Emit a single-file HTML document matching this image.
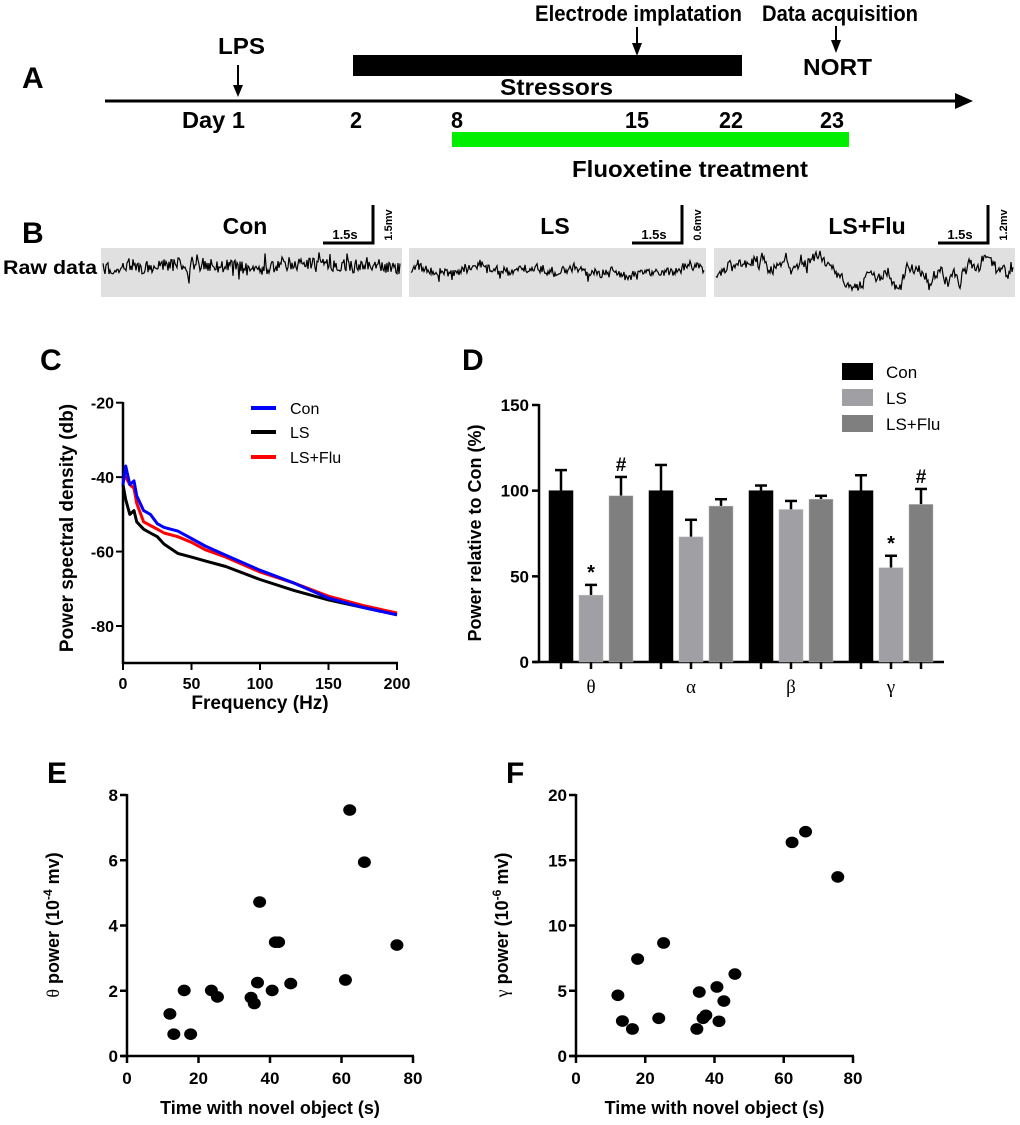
<!DOCTYPE html>
<html><head><meta charset="utf-8"><style>
body{margin:0;background:#fff;}
svg{display:block;font-family:"Liberation Sans",Arial,sans-serif;}
.b{font-weight:bold;}
</style></head><body>
<svg id="fig" width="1020" height="1125" viewBox="0 0 1020 1125" xmlns="http://www.w3.org/2000/svg">
<!-- Panel A -->
<g>
<text x="22" y="88" class="b" font-size="30">A</text>
<line x1="105" y1="101" x2="958" y2="101" stroke="#000" stroke-width="3"/>
<polygon points="955,93 973,101 955,109" fill="#000"/>
<text x="218" y="54" class="b" font-size="23" textLength="47" lengthAdjust="spacingAndGlyphs">LPS</text>
<line x1="238" y1="65" x2="238" y2="88" stroke="#000" stroke-width="2"/>
<polygon points="233,85 243,85 238,97" fill="#000"/>
<rect x="353" y="55" width="389" height="21" fill="#000"/>
<text x="500" y="95" class="b" font-size="23" textLength="113" lengthAdjust="spacingAndGlyphs">Stressors</text>
<text x="535" y="21" class="b" font-size="22" textLength="207" lengthAdjust="spacingAndGlyphs">Electrode implatation</text>
<line x1="637" y1="27" x2="637" y2="46" stroke="#000" stroke-width="2"/>
<polygon points="632,43 642,43 637,56" fill="#000"/>
<text x="762" y="21" class="b" font-size="22" textLength="156" lengthAdjust="spacingAndGlyphs">Data acquisition</text>
<line x1="836" y1="26" x2="836" y2="42" stroke="#000" stroke-width="2"/>
<polygon points="831,40 841,40 836,53" fill="#000"/>
<text x="803" y="75" class="b" font-size="23" textLength="69" lengthAdjust="spacingAndGlyphs">NORT</text>
<g class="b" font-size="23">
<text x="182" y="128" textLength="63" lengthAdjust="spacingAndGlyphs">Day 1</text>
<text x="350" y="128" textLength="12" lengthAdjust="spacingAndGlyphs">2</text>
<text x="451" y="128" textLength="12" lengthAdjust="spacingAndGlyphs">8</text>
<text x="625" y="128" textLength="24" lengthAdjust="spacingAndGlyphs">15</text>
<text x="719" y="128" textLength="24" lengthAdjust="spacingAndGlyphs">22</text>
<text x="820" y="128" textLength="24" lengthAdjust="spacingAndGlyphs">23</text>
</g>
<rect x="452" y="132" width="397" height="15" fill="#00ee00"/>
<text x="572" y="177" class="b" font-size="23" textLength="236" lengthAdjust="spacingAndGlyphs">Fluoxetine treatment</text>
</g>
<!-- Panel B -->
<g id="pb">
<text x="22" y="243" class="b" font-size="30">B</text>
<text x="3" y="274" class="b" font-size="19" textLength="94" lengthAdjust="spacingAndGlyphs">Raw data</text>
</g>
<g id="pc">
<text x="40" y="370" class="b" font-size="30">C</text>
</g>
<g id="pd">
<text x="462" y="370" class="b" font-size="30">D</text>
</g>
<g id="pe">
<text x="47" y="783" class="b" font-size="30">E</text>
</g>
<g id="pf">
<text x="506" y="783" class="b" font-size="30">F</text>
</g>
</svg>
<script>
// ---- Panel C data ----
const psdFreq = [0,2,5,8,10,15,20,25,30,40,50,60,75,100,125,150,175,200];
const psdCon = [-42,-37,-42,-41,-45,-49,-50,-52.5,-53.5,-54.5,-56.5,-58.5,-61,-65,-68.5,-72.5,-75,-77];
const psdLS = [-42,-46,-50,-49,-52,-54,-55,-56,-58,-60.5,-61.5,-62.5,-64,-67.5,-70.5,-73,-75,-77];
const psdFlu = [-40,-40,-42,-43,-47,-52,-53,-54,-55,-56,-57.5,-59.5,-61.5,-65.5,-68.5,-72,-74.5,-76.5];
const psdYTicks = [-20,-40,-60,-80];
const psdXTicks = [0,50,100,150,200];
// ---- Panel D data ----
const bandLabels = ['θ','α','β','γ'];
const barCon = [100,100,100,100];
const barLS = [39,73,89,55];
const barFlu = [97,91,95,92];
const errCon = [12,15,3,9];
const errLS = [6,10,5,7];
const errFlu = [11,4,2,9];
const sigLS = ['*','','','*'];
const sigFlu = ['#','','','#'];
const barYTicks = [0,50,100,150];
// ---- Panel E data ----
const eX = [12.0,13.1,17.8,16.0,23.6,25.3,34.7,35.6,36.5,37.1,40.6,41.5,42.4,45.8,61.1,62.3,66.4,75.5];
const eY = [1.29,0.67,0.67,2.01,2.01,1.81,1.79,1.61,2.25,4.72,2.01,3.49,3.49,2.22,2.33,7.54,5.94,3.40];
const eYTicks = [0,2,4,6,8];
// ---- Panel F data ----
const fX = [12.1,13.4,16.3,17.8,23.9,25.3,34.9,35.6,36.7,37.5,40.7,41.3,42.7,45.9,62.4,66.3,75.6];
const fY = [4.65,2.68,2.07,7.43,2.89,8.66,2.07,4.90,2.89,3.12,5.29,2.66,4.21,6.28,16.37,17.19,13.72];
const fYTicks = [0,5,10,15,20];
const scatXTicks = [0,20,40,60,80];

const NS='http://www.w3.org/2000/svg';
function mk(parent,tag,attrs,text){const e=document.createElementNS(NS,tag);for(const k in attrs)e.setAttribute(k,attrs[k]);if(text!==undefined)e.textContent=text;parent.appendChild(e);return e;}

// ---- Panel B traces (visual texture) ----
const pb=document.getElementById('pb');
const boxes=[[101,402,'Con',245,373,'1.5mv',7,0.8],[409,706,'LS',555,682,'0.6mv',4,1.2],[714,1015,'LS+Flu',867,988,'1.2mv',3.5,4]];
let seed=7;function rnd(){seed=(seed*1103515245+12345)%2147483648;return seed/2147483648;}
boxes.forEach((b,i)=>{
  const r=mk(pb,'rect',{x:b[0],y:248,width:b[1]-b[0],height:49,fill:'#e0e0e0'});
  
  
  const t=mk(pb,'text',{x:b[3],y:234,'text-anchor':'middle','font-size':23,'font-weight':'bold'},b[2]);
  
  
  mk(pb,'path',{d:`M${b[4]-50},243 H${b[4]} V205`,stroke:'#000','stroke-width':3,fill:'none'});
  mk(pb,'text',{x:b[4]-28,y:239,'text-anchor':'middle','font-size':13,'font-weight':'bold'},'1.5s');
  mk(pb,'text',{x:0,y:0,'font-size':11,'font-weight':'bold',transform:`translate(${b[4]+19},${225}) rotate(-90)`,'text-anchor':'middle'},b[5]);
  let d='',slow=0;const cy=i==0?266:(i==1?270:272);
  for(let x=b[0]+2;x<b[1]-1;x+=1){
    slow+= (rnd()-0.5)*b[7]; slow*=0.95;
    let v=(rnd()-0.5)*b[6]*2 + slow*3;
    if(rnd()<0.06) v+=(rnd()-0.35)*b[6]*4;
    const y=Math.max(250,Math.min(296,cy+v));
    d+=(d?'L':'M')+x+','+y.toFixed(1);
  }
  const p=mk(pb,'path',{d:d,stroke:'#000','stroke-width':1.2,fill:'none'});
  
  
});

// ---- Panel C ----
const pc=document.getElementById('pc');
const cx=f=>123+f*(397-123)/200, cyS=v=>402.7+(-20-v)*(626-402.7)/60;
mk(pc,'line',{x1:123,y1:402,x2:123,y2:664,stroke:'#000','stroke-width':2.5});
mk(pc,'line',{x1:122,y1:663,x2:398,y2:663,stroke:'#000','stroke-width':2.5});
psdYTicks.forEach(v=>{mk(pc,'line',{x1:116,x2:123,y1:cyS(v),y2:cyS(v),stroke:'#000','stroke-width':2});
  const t=mk(pc,'text',{x:114,y:cyS(v)+6,'text-anchor':'end','font-size':16,'font-weight':'bold'},String(v));
   });
psdXTicks.forEach(v=>{mk(pc,'line',{x1:cx(v),x2:cx(v),y1:663,y2:670,stroke:'#000','stroke-width':2});
  const t=mk(pc,'text',{x:cx(v),y:689,'text-anchor':'middle','font-size':16,'font-weight':'bold'},String(v));
   });
let t=mk(pc,'text',{x:260,y:709,'text-anchor':'middle','font-size':19,'font-weight':'bold'},'Frequency (Hz)');
 
t=mk(pc,'text',{x:0,y:0,'text-anchor':'middle','font-size':19,'font-weight':'bold',transform:'translate(73,528) rotate(-90)'},'Power spectral density (db)');
 
[[psdLS,'#000','ls'],[psdFlu,'#ff0000','ls-flu'],[psdCon,'#0000ff','con']].forEach(s=>{
  const d=psdFreq.map((f,i)=>(i?'L':'M')+cx(f).toFixed(1)+','+cyS(s[0][i]).toFixed(1)).join('');
  const p=mk(pc,'path',{d:d,stroke:s[1],'stroke-width':3,fill:'none','stroke-linejoin':'round'});
   
});
[['Con','#0000ff',408],['LS','#000',432],['LS+Flu','#ff0000',457]].forEach(l=>{
  mk(pc,'line',{x1:251,x2:276,y1:l[2],y2:l[2],stroke:l[1],'stroke-width':4});
  const tt=mk(pc,'text',{x:290,y:l[2]+6,'font-size':16},l[0]);
   
});

// ---- Panel D ----
const pd=document.getElementById('pd');
const dy=v=>662-v*(662-405)/150;
const groupC=i=>591+i*100;
mk(pd,'line',{x1:539,y1:404,x2:539,y2:663,stroke:'#000','stroke-width':2.5});
mk(pd,'line',{x1:533,y1:662,x2:944,y2:662,stroke:'#000','stroke-width':2.5});
barYTicks.forEach(v=>{mk(pd,'line',{x1:532,x2:539,y1:dy(v),y2:dy(v),stroke:'#000','stroke-width':2.5});
  const tt=mk(pd,'text',{x:529,y:dy(v)+6,'text-anchor':'end','font-size':17,'font-weight':'bold'},String(v));
   });
t=mk(pd,'text',{x:0,y:0,'text-anchor':'middle','font-size':18,'font-weight':'bold',transform:'translate(481,533) rotate(-90)'},'Power relative to Con (%)');
 
const series=[[barCon,errCon,'#000',-30,null,'con'],[barLS,errLS,'#a0a0a4',0,sigLS,'ls'],[barFlu,errFlu,'#7f7f7f',30,sigFlu,'ls-flu']];
bandLabels.forEach((lab,i)=>{
  series.forEach(s=>{
    const c=groupC(i)+s[3], v=s[0][i], e=s[1][i];
    mk(pd,'line',{x1:c,x2:c,y1:dy(v),y2:dy(v+e),stroke:'#000','stroke-width':2.5});
    mk(pd,'line',{x1:c-6,x2:c+6,y1:dy(v+e),y2:dy(v+e),stroke:'#000','stroke-width':2.5});
    const r=mk(pd,'rect',{x:c-12,y:dy(v),width:24,height:662-dy(v),fill:s[2],stroke:s[2]=='#000'?'#000':'#bbb','stroke-width':0.5});
     
    mk(pd,'line',{x1:c,x2:c,y1:662,y2:669,stroke:'#000','stroke-width':2.5});
    if(s[4]&&s[4][i]){const tt=mk(pd,'text',{x:c,y:dy(v+e)-6,'text-anchor':'middle','font-size':s[4][i]=='*'?20:19,'font-weight':'bold'},s[4][i]);
       }
  });
  const tt=mk(pd,'text',{x:groupC(i),y:693,'text-anchor':'middle','font-size':19,'font-family':'Liberation Serif,serif'},lab);
   
});
[['Con','#000',363],['LS','#a0a0a4',389],['LS+Flu','#7f7f7f',415]].forEach(l=>{
  mk(pd,'rect',{x:842,y:l[2],width:31,height:17,fill:l[1]});
  const tt=mk(pd,'text',{x:886,y:l[2]+15,'font-size':17},l[0]);
   
});

// ---- Scatter panels ----
function scatter(g,x0,x1,xs,ys,yMax,yTicks,sym,exp,name){
  const sx=v=>x0+v*(x1-x0)/80, sy=v=>1056-v*(1056-795)/yMax;
  mk(g,'line',{x1:x0,y1:794,x2:x0,y2:1057,stroke:'#000','stroke-width':2.5});
  mk(g,'line',{x1:x0-6,y1:1056,x2:x1+1,y2:1056,stroke:'#000','stroke-width':2.5});
  yTicks.forEach(v=>{mk(g,'line',{x1:x0-7,x2:x0,y1:sy(v),y2:sy(v),stroke:'#000','stroke-width':2.5});
    const tt=mk(g,'text',{x:x0-9,y:sy(v)+6,'text-anchor':'end','font-size':17,'font-weight':'bold'},String(v));
     });
  scatXTicks.forEach(v=>{mk(g,'line',{x1:sx(v),x2:sx(v),y1:1056,y2:1063,stroke:'#000','stroke-width':2.5});
    const tt=mk(g,'text',{x:sx(v),y:1084,'text-anchor':'middle','font-size':17,'font-weight':'bold'},String(v));
     });
  const xt=mk(g,'text',{x:(x0+x1)/2,y:1114,'text-anchor':'middle','font-size':18,'font-weight':'bold'},'Time with novel object (s)');
   
  const yt=mk(g,'text',{x:0,y:0,'text-anchor':'middle','font-size':18,transform:`translate(${x0-68},925) rotate(-90)`});
   
  mk(yt,'tspan',{'font-family':'Liberation Serif,serif'},sym);
  mk(yt,'tspan',{'font-weight':'bold'},' power (10');
  mk(yt,'tspan',{'font-weight':'bold','font-size':12,dy:-7},exp);
  mk(yt,'tspan',{'font-weight':'bold',dy:7},' mv)');
  xs.forEach((v,i)=>{const c=mk(g,'ellipse',{cx:sx(v),cy:sy(ys[i]),rx:6.5,ry:5.8,fill:'#000'});
     });
}
scatter(document.getElementById('pe'),127,413,eX,eY,8,eYTicks,'θ','-4','theta-scatter');
scatter(document.getElementById('pf'),576,853,fX,fY,20,fYTicks,'γ','-6','gamma-scatter');
</script>
</body></html>
